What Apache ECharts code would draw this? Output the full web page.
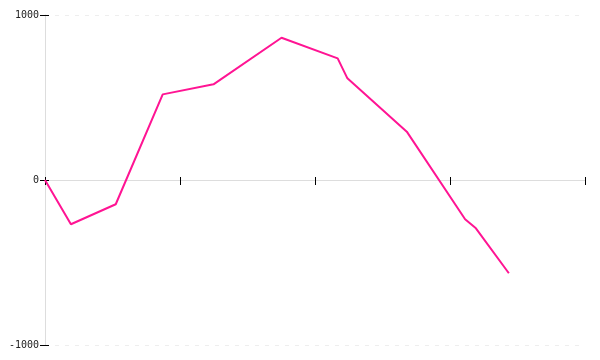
<!DOCTYPE html>
<html>
<head>
<meta charset="utf-8">
<script src="https://cdn.jsdelivr.net/npm/echarts@6/dist/echarts.min.js"></script>
<style>html,body{margin:0;padding:0;background:#fff}#c{width:600px;height:360px}</style>
</head>
<body>
<div id="c"></div>
<script>
var xValues = [0, 4.8, 13.1, 21.8, 31.2, 43.8, 54.2, 56.0, 67.0, 77.8, 79.8, 85.9];
var yValues = [0, -268, -147, 519, 580, 862, 737, 616, 293, -238, -293, -565];
var yTicks = [-1000, 0, 1000];

var data = xValues.map(function (x, i) { return [x, yValues[i]]; });
var chart = echarts.init(document.getElementById('c'));
var tickStyle = { color: '#000', width: 1 };
chart.setOption({
  animation: false,
  grid: { left: 45, right: 15, top: 15, bottom: 15 },
  xAxis: [{
    type: 'value', min: 0, max: 100, interval: 25,
    axisLine: { onZero: true, lineStyle: { color: '#ddd' } },
    axisTick: { show: true, length: 5, lineStyle: tickStyle },
    axisLabel: { show: false },
    splitLine: { show: false }
  }, {
    type: 'value', min: 0, max: 100, interval: 25, position: 'bottom',
    axisLine: { show: false, onZero: true },
    axisTick: { show: true, inside: true, length: 3, lineStyle: tickStyle },
    axisLabel: { show: false },
    splitLine: { show: false }
  }],
  yAxis: [{
    type: 'value', min: yTicks[0], max: yTicks[2], interval: 1000,
    axisLine: { show: true, lineStyle: { color: '#ddd' } },
    axisTick: { show: true, length: 5, lineStyle: tickStyle },
    axisLabel: { color: '#222', fontFamily: 'DejaVu Sans Mono', fontSize: 10, margin: 6,
      formatter: function (v) { return String(v); } },
    splitLine: { show: true, lineStyle: { color: '#eee', type: [4, 6] } }
  }, {
    type: 'value', min: yTicks[0], max: yTicks[2], interval: 1000, position: 'left',
    axisLine: { show: false },
    axisTick: { show: true, inside: true, length: 4, lineStyle: tickStyle },
    axisLabel: { show: false },
    splitLine: { show: false }
  }],
  series: [{
    type: 'line', data: data, showSymbol: false, symbol: 'none',
    lineStyle: { color: '#ff1493', width: 2 },
    itemStyle: { color: '#ff1493' }
  }]
});
</script>
</body>
</html>
